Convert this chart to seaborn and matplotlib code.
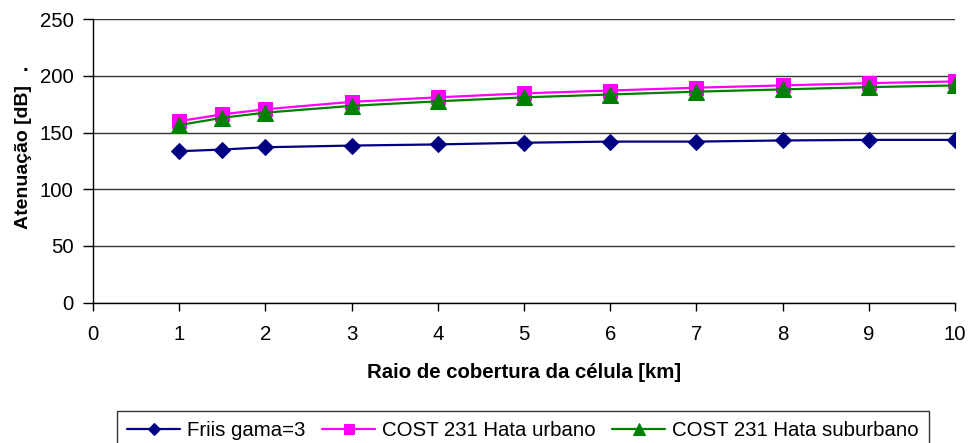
import matplotlib
matplotlib.use("Agg")
import matplotlib.pyplot as plt
import pandas as pd
import seaborn as sns

# cell radius in km
raio = [1, 1.5, 2, 3, 4, 5, 6, 7, 8, 9, 10]
friis = [133.5, 135, 137, 138.5, 139.5, 141, 142, 142, 143, 143.5, 143.5]
hata_urbano = [160, 166, 170.5, 177, 181, 184.5, 187, 189.5, 191.5, 193.5, 195]
hata_suburbano = [156.5, 163, 167.5, 173.5, 177.5, 181, 183.5, 186, 188, 190, 191.5]

series_names = ["Friis gama=3", "COST 231 Hata urbano", "COST 231 Hata suburbano"]
x_ticks = list(range(0, 11))
y_ticks = [0, 50, 100, 150, 200, 250]


def build_frame():
    parts = []
    for name, vals in zip(series_names, [friis, hata_urbano, hata_suburbano]):
        parts.append(pd.DataFrame({"raio": raio, "atenuacao": vals, "serie": name}))
    return pd.concat(parts, ignore_index=True)


def main():
    sns.set_theme(style="white")
    plt.rcParams["font.family"] = ["Liberation Sans", "DejaVu Sans"]
    plt.rcParams["text.color"] = "black"
    plt.rcParams["axes.labelcolor"] = "black"

    df = build_frame()
    colors = {"Friis gama=3": "#000080",
              "COST 231 Hata urbano": "#FF00FF",
              "COST 231 Hata suburbano": "#008000"}
    markers = {"Friis gama=3": "D",
               "COST 231 Hata urbano": "s",
               "COST 231 Hata suburbano": "^"}
    sizes = {"Friis gama=3": 8.5,
             "COST 231 Hata urbano": 10,
             "COST 231 Hata suburbano": 11.5}

    fig = plt.figure(figsize=(9.71, 4.43), dpi=100)
    ax = fig.add_axes([0.0958, 0.3167, 0.8877, 0.6403])

    for name in series_names:
        sub = df[df["serie"] == name]
        sns.lineplot(data=sub, x="raio", y="atenuacao", ax=ax, label=name,
                     color=colors[name], marker=markers[name],
                     markersize=sizes[name], markeredgecolor=colors[name],
                     linewidth=1.6, zorder=3)

    ax.set_xlim(0, 10)
    ax.set_ylim(0, 250)
    ax.set_xticks(x_ticks)
    ax.set_yticks(y_ticks)
    ax.tick_params(axis="both", labelsize=14.7, colors="black",
                   direction="out", width=1, bottom=True, left=True)
    ax.tick_params(axis="x", length=6, pad=10)
    ax.tick_params(axis="y", length=7, pad=7)
    ax.yaxis.grid(True, color="#333333", linewidth=1)
    ax.set_axisbelow(True)
    for s in ["top", "right"]:
        ax.spines[s].set_visible(False)
    for s in ["left", "bottom"]:
        ax.spines[s].set_color("black")
        ax.spines[s].set_linewidth(1)

    ax.set_xlabel("Raio de cobertura da célula [km]", fontsize=14.7,
                  fontweight="bold", labelpad=14)
    ax.set_ylabel("Atenuação [dB]", fontsize=14, fontweight="bold")
    ax.yaxis.set_label_coords(-0.071, 0.512)
    fig.text(0.026, 0.852, ".", fontsize=14.7, fontweight="bold",
             ha="center", va="center")

    handles, labels = ax.get_legend_handles_labels()
    ax.get_legend().remove()
    leg = fig.legend(handles, labels, ncol=3, loc="upper center",
                     bbox_to_anchor=(0.5386, 0.0722),
                     bbox_transform=fig.transFigure, fontsize=14.7,
                     frameon=True, fancybox=False, edgecolor="black",
                     handlelength=2.6, handletextpad=0.34,
                     columnspacing=0.8, borderpad=0.5, borderaxespad=0,
                     markerscale=0.75)
    leg.get_frame().set_linewidth(1)

    fig.savefig("out.png", dpi=100)


if __name__ == "__main__":
    main()
